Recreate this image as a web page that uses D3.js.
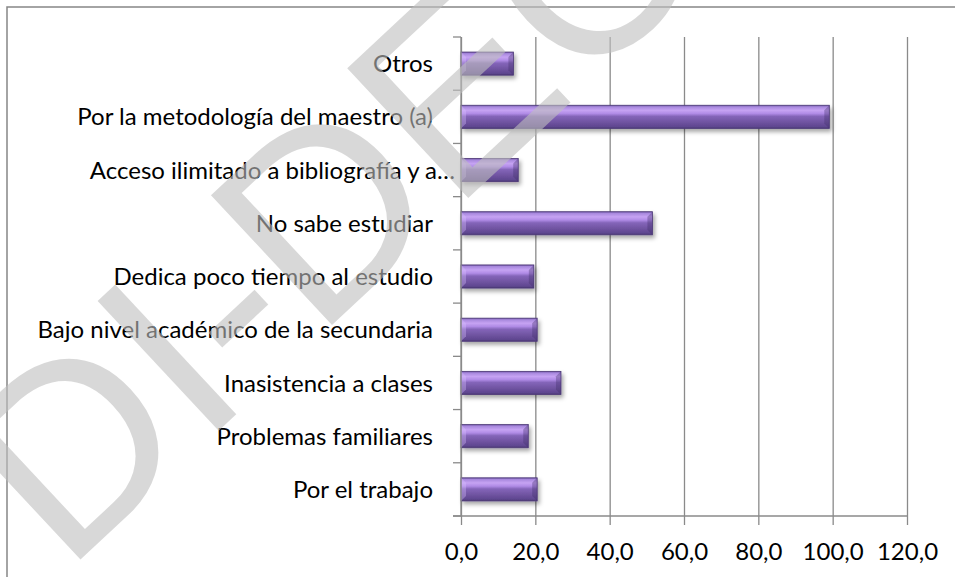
<!DOCTYPE html>
<html>
<head>
<meta charset="utf-8">
<script src="https://cdn.jsdelivr.net/npm/d3@7"></script>
<style>
  html, body { margin: 0; padding: 0; background: #fff; }
  svg { display: block; }
  .axis text { font-family: Lato, "Liberation Sans", sans-serif; font-size: 24px; fill: #000; }
</style>
</head>
<body>
<svg id="chart" width="955" height="577"></svg>
<script>
// categories top to bottom, as they appear in the chart
var categories = [
  "Otros",
  "Por la metodología del maestro (a)",
  "Acceso ilimitado a bibliografía y a…",
  "No sabe estudiar",
  "Dedica poco tiempo al estudio",
  "Bajo nivel académico de la secundaria",
  "Inasistencia a clases",
  "Problemas familiares",
  "Por el trabajo"
];
var values = [14.1, 99.1, 15.4, 51.5, 19.6, 20.5, 26.9, 18.1, 20.5];
var xTicks = [0, 20, 40, 60, 80, 100, 120];
var watermark = "DI-DEC";

var svg = d3.select('#chart');
var margin = { left: 461, top: 37, right: 955 - 907, bottom: 577 - 516 };
var width = 955 - margin.left - margin.right;
var height = 577 - margin.top - margin.bottom;

var defs = svg.append('defs');

var grad = defs.append('linearGradient')
  .attr('id', 'barGrad')
  .attr('x1', 0).attr('y1', 0).attr('x2', 0).attr('y2', 1);
[[0, '#6c53a3'], [0.07, '#a888dd'], [0.22, '#c6a3f3'], [0.36, '#b08be6'],
 [0.48, '#8465b9'], [0.75, '#6e529f'], [0.92, '#5f4790'], [1, '#4a3774']]
  .forEach(function(s) {
    grad.append('stop').attr('offset', s[0]).attr('stop-color', s[1]);
  });

var shadow = defs.append('filter').attr('id', 'shadow')
  .attr('x', '-10%').attr('y', '-30%').attr('width', '130%').attr('height', '190%');
shadow.append('feDropShadow')
  .attr('dx', 2).attr('dy', 3).attr('stdDeviation', 2)
  .attr('flood-color', '#000').attr('flood-opacity', 0.35);

// chart border (runs off the right and bottom of the picture)
svg.append('rect')
  .attr('x', 7).attr('y', 7).attr('width', 1200).attr('height', 1200)
  .attr('fill', 'none').attr('stroke', '#868686').attr('stroke-width', 1.5);

var g = svg.append('g').attr('transform', 'translate(' + margin.left + ',' + margin.top + ')');

var x = d3.scaleLinear().domain([0, 120]).range([0, width]);
var y = d3.scaleBand().domain(categories).range([0, height]).padding(0);
var barH = y.bandwidth() / 2.3;

// vertical gridlines
g.append('g')
  .attr('class', 'grid')
  .attr('transform', 'translate(0,' + height + ')')
  .call(d3.axisBottom(x).tickValues(xTicks).tickSize(-height).tickFormat(''))
  .call(function(s) {
    s.select('.domain').remove();
    s.selectAll('line').attr('stroke', '#8a8a8a').attr('stroke-width', 1.3);
  });

// bars
var bars = g.append('g').selectAll('.bar')
  .data(categories)
  .enter()
  .append('g')
    .attr('class', 'bar')
    .attr('filter', 'url(#shadow)');

bars.append('rect')
  .attr('x', x(0))
  .attr('y', function(d) { return y(d) + (y.bandwidth() - barH) / 2; })
  .attr('width', function(d, i) { return x(values[i]) - x(0); })
  .attr('height', barH)
  .attr('fill', 'url(#barGrad)')
  .attr('stroke', '#4e3a78')
  .attr('stroke-width', 0.8);

// bevelled ends
var bev = 5;
bars.append('polygon')
  .attr('points', function(d, i) {
    var y0 = y(d) + (y.bandwidth() - barH) / 2, x1 = x(values[i]);
    return [[x1, y0], [x1 - bev, y0 + bev], [x1 - bev, y0 + barH - bev], [x1, y0 + barH]].join(' ');
  })
  .attr('fill', '#3f2d66').attr('opacity', 0.35);
bars.append('polygon')
  .attr('points', function(d, i) {
    var y0 = y(d) + (y.bandwidth() - barH) / 2, x0 = x(0);
    return [[x0, y0], [x0 + bev, y0 + bev], [x0 + bev, y0 + barH - bev], [x0, y0 + barH]].join(' ');
  })
  .attr('fill', '#d9c2ff').attr('opacity', 0.35);

// watermark, runs diagonally across the whole picture
svg.append('text')
  .attr('transform', 'translate(65,574) rotate(-43)')
  .attr('font-family', '"Liberation Sans", Arial, sans-serif')
  .attr('font-size', 258)
  .attr('fill', '#bfbfbf')
  .attr('opacity', 0.6)
  .text(watermark);

// category axis: boundary ticks
var boundaries = d3.range(categories.length + 1).map(function(i) { return i * y.step(); });
g.append('g').selectAll('line.cat-tick')
  .data(boundaries)
  .enter()
  .append('line')
    .attr('class', 'cat-tick')
    .attr('x1', -8).attr('x2', 0)
    .attr('y1', function(d) { return d; }).attr('y2', function(d) { return d; })
    .attr('stroke', '#8a8a8a').attr('stroke-width', 1.3);

g.append('line')
  .attr('x1', 0).attr('x2', 0).attr('y1', 0).attr('y2', height)
  .attr('stroke', '#8a8a8a').attr('stroke-width', 1.3);

var yAxis = g.append('g')
  .attr('class', 'axis')
  .call(d3.axisLeft(y).tickSize(0).tickPadding(28));
yAxis.select('.domain').remove();
yAxis.selectAll('text')
  .attr('dy', '0.36em')
  .attr('x', function(d) { return /…$/.test(d) ? -6 : -28; });

// value axis
var xAxis = g.append('g')
  .attr('class', 'axis')
  .attr('transform', 'translate(0,' + height + ')')
  .call(d3.axisBottom(x).tickValues(xTicks).tickSize(9).tickPadding(18)
    .tickFormat(function(d) { return d3.format('.1f')(d).replace('.', ','); }));
xAxis.select('.domain').remove();
xAxis.selectAll('line').attr('stroke', '#8a8a8a').attr('stroke-width', 1.3);
g.append('line')
  .attr('x1', -8).attr('x2', width).attr('y1', height).attr('y2', height)
  .attr('stroke', '#8a8a8a').attr('stroke-width', 1.3);
</script>
</body>
</html>
